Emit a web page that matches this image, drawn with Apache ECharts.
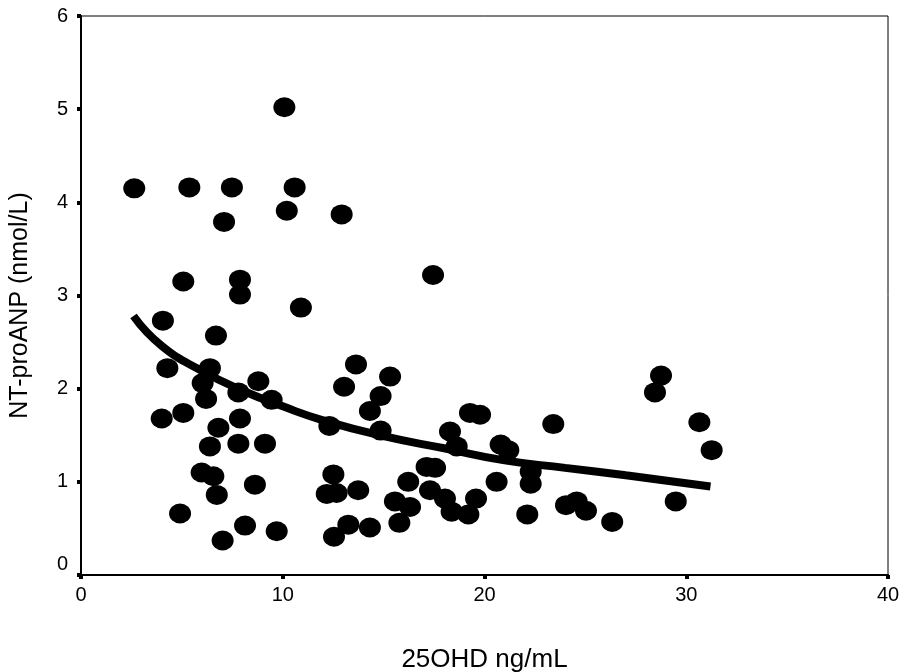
<!DOCTYPE html>
<html>
<head>
<meta charset="utf-8">
<script src="https://cdn.jsdelivr.net/npm/echarts@6/dist/echarts.min.js"></script>
<style>
html,body{margin:0;padding:0;background:#fff;}
#chart{width:900px;height:672px;}
</style>
</head>
<body>
<div id="chart"></div>
<script>
// 25OHD (ng/mL) values of each subject
var vitD = [2.64,5.37,7.48,10.08,10.59,10.20,7.09,12.92,5.07,7.88,7.88,10.90,4.06,6.69,17.45,
  4.28,6.39,6.03,6.20,8.79,7.80,9.45,4.00,5.07,7.88,6.81,6.39,7.80,9.12,5.98,6.56,6.73,8.62,
  4.91,8.13,7.02,9.70,13.63,13.04,15.32,14.85,14.32,12.31,14.85,12.51,12.18,12.67,13.74,13.25,
  14.32,12.54,16.22,15.56,16.31,15.78,17.13,17.55,17.30,18.04,18.37,19.20,19.58,18.29,18.62,
  19.28,19.78,20.80,21.18,20.60,22.29,22.29,22.12,23.41,24.04,24.57,25.03,26.33,28.75,28.45,
  30.65,31.26,29.48];
// NT-proANP (nmol/L) values of each subject
var ntproANP = [4.15,4.16,4.16,5.02,4.16,3.91,3.79,3.87,3.15,3.17,3.01,2.87,2.73,2.57,3.22,
  2.22,2.22,2.06,1.89,2.08,1.96,1.88,1.68,1.74,1.68,1.58,1.38,1.41,1.41,1.10,1.06,0.86,0.97,
  0.66,0.53,0.37,0.47,2.26,2.02,2.13,1.92,1.76,1.60,1.55,1.08,0.87,0.88,0.91,0.54,
  0.51,0.41,1.00,0.79,0.73,0.56,1.16,1.15,0.91,0.82,0.68,0.65,0.82,1.54,1.38,
  1.74,1.72,1.40,1.34,1.00,1.11,0.98,0.65,1.62,0.75,0.79,0.69,0.57,2.14,1.96,
  1.64,1.34,0.79];
// fitted curve
var fitX = [2.6, 4, 6, 8, 10, 12, 15, 18, 21, 24, 27, 31.2];
var fitY = [2.78, 2.46, 2.19, 1.98, 1.81, 1.66, 1.49, 1.36, 1.23, 1.15, 1.07, 0.95];
var xTicks = [0, 10, 20, 30, 40];
var yTicks = [0, 1, 2, 3, 4, 5, 6];

var pts = vitD.map(function (v, i) { return [v, ntproANP[i]]; });
var fit = fitX.map(function (v, i) { return [v, fitY[i]]; });

var chart = echarts.init(document.getElementById('chart'));
var font = 'Liberation Sans, Arial, sans-serif';
chart.setOption({
  animation: false,
  backgroundColor: '#fff',
  grid: { left: 81, right: 12, top: 16, bottom: 97, containLabel: false, outerBoundsMode: 'none',
    show: true, borderColor: '#000', borderWidth: 1, backgroundColor: 'transparent' },
  xAxis: {
    type: 'value', min: xTicks[0], max: xTicks[xTicks.length - 1], interval: 10,
    name: '25OHD ng/mL', nameLocation: 'middle', nameGap: 72,
    nameTextStyle: { fontFamily: font, fontSize: 26, color: '#000' },
    axisLine: { lineStyle: { color: '#000', width: 2 } },
    axisTick: { show: true, length: 4, lineStyle: { color: '#000', width: 4 } },
    axisLabel: { fontFamily: font, fontSize: 20, color: '#000', margin: 10 },
    splitLine: { show: false }
  },
  yAxis: {
    type: 'value', min: yTicks[0], max: yTicks[yTicks.length - 1], interval: 1,
    name: 'NT-proANP (nmol/L)', nameLocation: 'middle', nameGap: 48, nameRotate: 90,
    nameTextStyle: { fontFamily: font, fontSize: 25, color: '#000', padding: [0, 20, 0, 0] },
    axisLine: { lineStyle: { color: '#000', width: 2 } },
    axisTick: { show: true, length: 4, lineStyle: { color: '#000', width: 4 } },
    axisLabel: {
      fontFamily: font, fontSize: 20, color: '#000', margin: 13,
      formatter: function (v) { return v === 0 ? '{z|0}' : String(v); },
      rich: { z: { fontFamily: font, fontSize: 20, color: '#000', padding: [0, 0, 22, 0] } }
    },
    splitLine: { show: false }
  },
  series: [
    {
      type: 'scatter', data: pts, symbol: 'circle', symbolSize: [22, 20],
      itemStyle: { color: '#000', opacity: 1 }, z: 2
    },
    {
      type: 'line', data: fit, smooth: true, showSymbol: false, symbol: 'none',
      lineStyle: { color: '#000', width: 8, cap: 'butt' }, z: 3
    }
  ]
});
</script>
</body>
</html>
